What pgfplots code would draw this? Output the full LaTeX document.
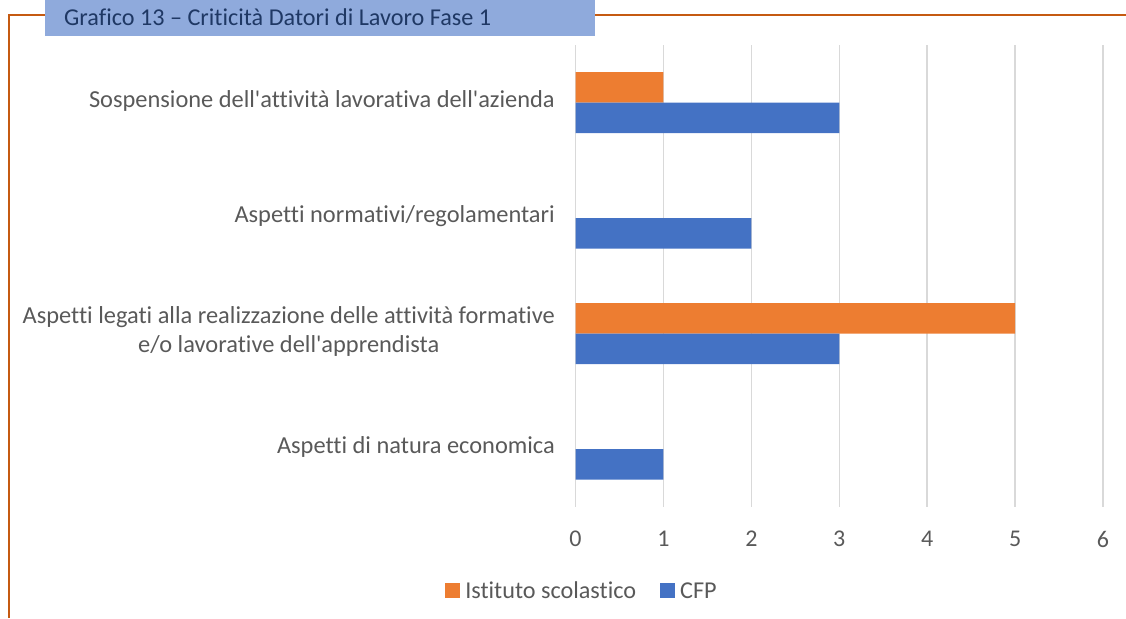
\documentclass[border=0pt]{standalone}
\usepackage{pgfplots}
\pgfplotsset{compat=1.18}
\usepackage{fontspec}
\setmainfont{Carlito}[Ligatures={NoCommon}]
\definecolor{orangeS}{HTML}{ED7D31}
\definecolor{blueS}{HTML}{4472C4}
\definecolor{gridc}{HTML}{D9D9D9}
\definecolor{txt}{HTML}{595959}
\definecolor{framec}{HTML}{C55A11}
\definecolor{titlebox}{HTML}{8FAADC}
\definecolor{titletxt}{HTML}{1F3864}
\begin{document}
\begin{tikzpicture}[x=1pt,y=1pt]
\path[use as bounding box] (0,0) rectangle (1126,618);
\draw[framec, line width=2.5pt] (9,0) -- (9,603) -- (1126,603);
\fill[titlebox] (45,582) rectangle (595,618);
\node[anchor=west, inner sep=0pt, text=titletxt, font=\fontsize{24.2}{28}\selectfont] at (64,601) {Grafico 13 – Criticità Datori di Lavoro Fase 1};
\begin{axis}[
  at={(575.5pt,111pt)}, anchor=south west,
  scale only axis, width=527.5pt, height=462pt,
  xmin=0, xmax=6, ymin=-0.5, ymax=3.5,
  xbar, bar width=30.5pt,
  xtick={0,1,2,3,4,5,6}, ytick={0,1,2,3},
  yticklabels={Aspetti di natura economica,
    {Aspetti legati alla realizzazione delle attività formative\\e/o lavorative dell\textquotesingle apprendista},
    Aspetti normativi/regolamentari,
    Sospensione dell\textquotesingle attività lavorativa dell\textquotesingle azienda},
  axis line style={draw=none},
  major tick length=0pt,
  xmajorgrids, grid style={gridc, line width=1.5pt},
  /pgf/number format/assume math mode=true,
  xticklabel style={inner sep=0pt, yshift=-24pt, text=txt, font=\fontsize{24}{28}\selectfont},
  yticklabel style={inner sep=0pt, xshift=-20.5pt, yshift=2pt, align=center, text=txt, font=\fontsize{24.4}{29}\selectfont},
  legend style={at={(0.0123,-0.1818)}, anchor=center, draw=none, fill=none,
    legend columns=2, font=\fontsize{24.2}{28}\selectfont, text=txt,
    /tikz/every even column/.append style={column sep=22pt}},
  legend image code/.code={\fill[#1] (0pt,-7.5pt) rectangle (15pt,7.5pt); \path (18pt,0pt);},
]
\addplot[fill=orangeS, draw=none, bar shift=15.25pt] coordinates {(1,3) (5,1)};
\addlegendentry{Istituto scolastico}
\addplot[fill=blueS, draw=none, bar shift=-15.25pt] coordinates {(3,3) (2,2) (3,1) (1,0)};
\addlegendentry{CFP}
\end{axis}
\end{tikzpicture}
\end{document}
